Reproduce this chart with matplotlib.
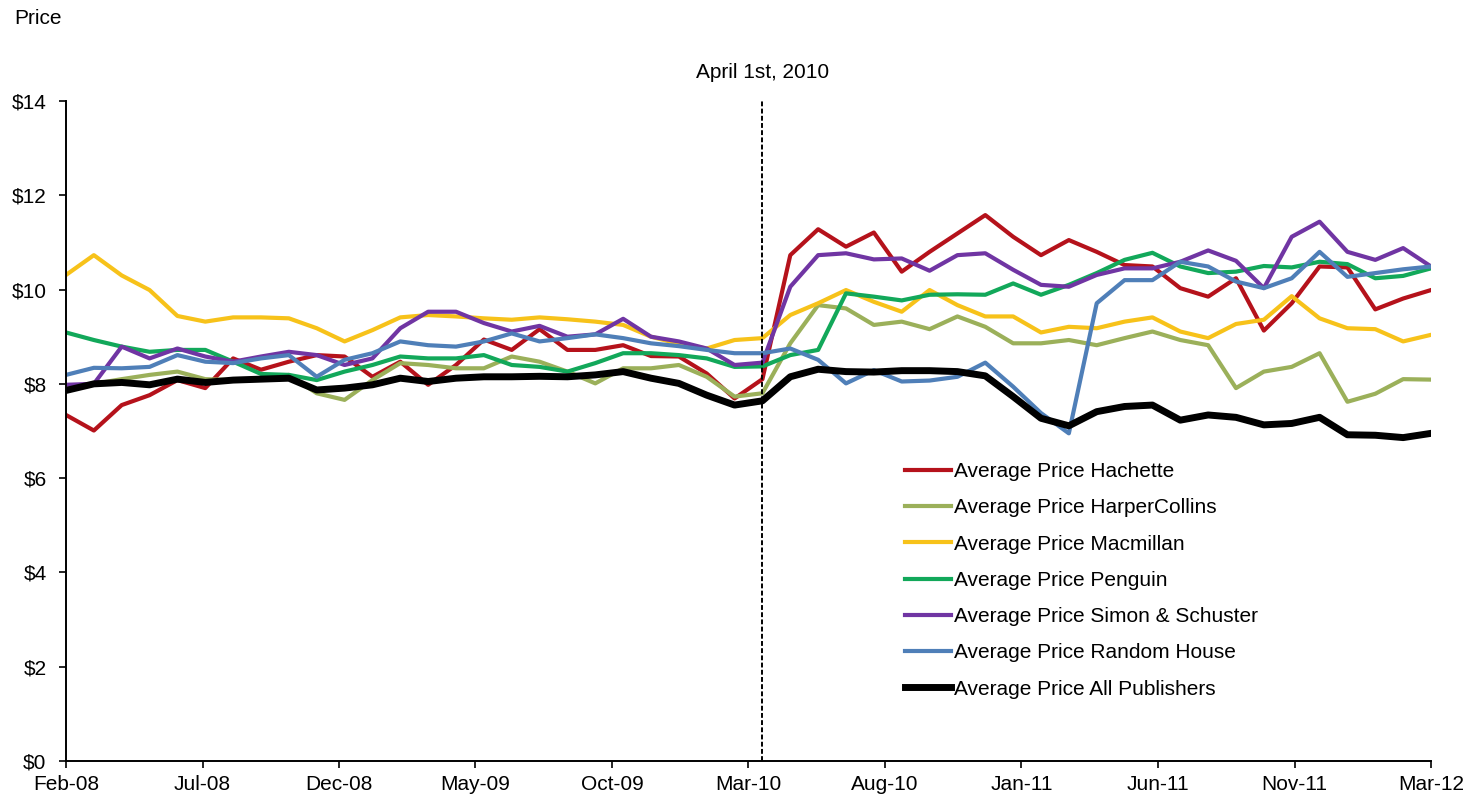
import matplotlib
matplotlib.use("Agg")
import matplotlib.pyplot as plt

plt.rcParams['font.family'] = ['Liberation Sans', 'DejaVu Sans']

months = ["Feb-08", "Mar-08", "Apr-08", "May-08", "Jun-08", "Jul-08", "Aug-08", "Sep-08", "Oct-08", "Nov-08",
          "Dec-08", "Jan-09", "Feb-09", "Mar-09", "Apr-09", "May-09", "Jun-09", "Jul-09", "Aug-09", "Sep-09",
          "Oct-09", "Nov-09", "Dec-09", "Jan-10", "Feb-10", "Mar-10", "Apr-10", "May-10", "Jun-10", "Jul-10",
          "Aug-10", "Sep-10", "Oct-10", "Nov-10", "Dec-10", "Jan-11", "Feb-11", "Mar-11", "Apr-11", "May-11",
          "Jun-11", "Jul-11", "Aug-11", "Sep-11", "Oct-11", "Nov-11", "Dec-11", "Jan-12", "Feb-12", "Mar-12"]

tick_labels = ["Feb-08", "Jul-08", "Dec-08", "May-09", "Oct-09", "Mar-10",
               "Aug-10", "Jan-11", "Jun-11", "Nov-11", "Mar-12"]

hachette = [7.34, 7.01, 7.55, 7.76, 8.08, 7.91, 8.54, 8.30, 8.47, 8.61,
            8.58, 8.15, 8.47, 7.98, 8.40, 8.94, 8.72, 9.16, 8.72, 8.72,
            8.82, 8.59, 8.58, 8.22, 7.69, 8.10, 10.73, 11.28, 10.91, 11.21,
            10.38, 10.80, 11.19, 11.58, 11.12, 10.73, 11.05, 10.80, 10.52, 10.49,
            10.03, 9.85, 10.24, 9.13, 9.71, 10.49, 10.47, 9.58, 9.81, 9.99]

harpercollins = [7.95, 8.00, 8.10, 8.19, 8.26, 8.10, 8.08, 8.10, 8.19, 7.80,
                 7.66, 8.08, 8.44, 8.40, 8.33, 8.33, 8.58, 8.47, 8.26, 8.01,
                 8.33, 8.33, 8.40, 8.15, 7.73, 7.80, 8.86, 9.67, 9.60, 9.25,
                 9.32, 9.16, 9.43, 9.21, 8.86, 8.86, 8.93, 8.82, 8.97, 9.11,
                 8.93, 8.82, 7.91, 8.26, 8.36, 8.65, 7.62, 7.79, 8.10, 8.09]

macmillan = [10.31, 10.73, 10.30, 9.99, 9.44, 9.32, 9.41, 9.41, 9.39, 9.18,
             8.90, 9.14, 9.41, 9.46, 9.43, 9.39, 9.36, 9.41, 9.37, 9.32,
             9.25, 9.00, 8.85, 8.75, 8.93, 8.97, 9.46, 9.71, 9.99, 9.74,
             9.53, 9.99, 9.67, 9.43, 9.43, 9.09, 9.21, 9.18, 9.32, 9.41,
             9.11, 8.97, 9.27, 9.36, 9.86, 9.39, 9.18, 9.16, 8.90, 9.04]

penguin = [9.09, 8.93, 8.79, 8.68, 8.72, 8.72, 8.47, 8.21, 8.19, 8.08,
           8.26, 8.40, 8.58, 8.54, 8.54, 8.61, 8.40, 8.36, 8.26, 8.44,
           8.65, 8.65, 8.61, 8.54, 8.36, 8.37, 8.61, 8.72, 9.92, 9.85,
           9.77, 9.89, 9.90, 9.89, 10.13, 9.89, 10.10, 10.35, 10.63, 10.78,
           10.49, 10.35, 10.38, 10.50, 10.47, 10.59, 10.54, 10.24, 10.29, 10.45]

simon_schuster = [7.98, 8.00, 8.79, 8.54, 8.75, 8.58, 8.47, 8.58, 8.68, 8.61,
                  8.40, 8.54, 9.18, 9.53, 9.53, 9.29, 9.11, 9.23, 9.00, 9.05,
                  9.38, 9.00, 8.90, 8.75, 8.40, 8.45, 10.06, 10.73, 10.77, 10.64,
                  10.66, 10.40, 10.73, 10.77, 10.42, 10.10, 10.06, 10.31, 10.45, 10.45,
                  10.59, 10.83, 10.61, 10.03, 11.12, 11.44, 10.80, 10.63, 10.88, 10.49]

random_house = [8.19, 8.34, 8.33, 8.36, 8.61, 8.47, 8.44, 8.54, 8.61, 8.15,
                8.51, 8.65, 8.90, 8.82, 8.79, 8.90, 9.07, 8.90, 8.97, 9.05,
                8.97, 8.86, 8.80, 8.72, 8.65, 8.65, 8.75, 8.51, 8.01, 8.29,
                8.05, 8.07, 8.15, 8.45, 7.94, 7.38, 6.95, 9.71, 10.20, 10.20,
                10.59, 10.49, 10.17, 10.03, 10.24, 10.80, 10.27, 10.35, 10.43, 10.49]

all_publishers = [7.86, 8.00, 8.03, 7.98, 8.10, 8.03, 8.08, 8.10, 8.12, 7.87,
                  7.91, 7.98, 8.12, 8.05, 8.12, 8.15, 8.15, 8.16, 8.15, 8.19,
                  8.26, 8.12, 8.01, 7.76, 7.55, 7.64, 8.15, 8.31, 8.26, 8.25,
                  8.28, 8.28, 8.26, 8.17, 7.73, 7.27, 7.11, 7.41, 7.52, 7.55,
                  7.23, 7.34, 7.29, 7.13, 7.16, 7.29, 6.92, 6.91, 6.86, 6.95]

series = [
    ("Average Price Hachette", hachette, "#B5121B", 3.0),
    ("Average Price HarperCollins", harpercollins, "#9BB05A", 3.0),
    ("Average Price Macmillan", macmillan, "#F7C21A", 3.0),
    ("Average Price Penguin", penguin, "#12A85A", 3.0),
    ("Average Price Simon & Schuster", simon_schuster, "#7035A3", 3.0),
    ("Average Price Random House", random_house, "#4F7FB8", 3.0),
    ("Average Price All Publishers", all_publishers, "#000000", 5.0),
]

y_ticks = [0, 2, 4, 6, 8, 10, 12, 14]
event_index = months.index("Mar-10")

fig = plt.figure(figsize=(14.76, 8.02), dpi=100)
ax = fig.add_axes([66 / 1476, 1 - 761 / 802, (1431 - 66) / 1476, (761 - 101) / 802])

x = list(range(len(months)))
for label, vals, color, lw in series:
    ax.plot(x, vals, color=color, lw=lw, label=label)

ax.axvline(event_index, ymin=0, ymax=1, color='black', lw=1.4, linestyle=(0, (2.5, 1.2)))

ax.set_xlim(0, len(months) - 1)
ax.set_ylim(0, 14)
n = len(tick_labels) - 1
ax.set_xticks([k * (len(months) - 1) / n for k in range(n + 1)])
ax.set_xticklabels(tick_labels, fontsize=15)
ax.set_yticks(y_ticks)
ax.set_yticklabels([f"${v}" for v in y_ticks], fontsize=15)
ax.tick_params(axis='y', direction='out', length=5, width=1.2, pad=9)
ax.tick_params(axis='x', direction='out', length=5, width=1.2, pad=5)

for s in ['top', 'right']:
    ax.spines[s].set_visible(False)
for s in ['left', 'bottom']:
    ax.spines[s].set_linewidth(1.4)
    ax.spines[s].set_color('black')

fig.text(14 / 1476, 1 - 18 / 802, "Price", fontsize=15, ha='left', va='center')
ax.text(event_index, 14.6, "April 1st, 2010", fontsize=15, ha='center', va='center',
        transform=ax.transData, clip_on=False)

leg = ax.legend(loc='upper left', bbox_to_anchor=((905 - 66) / 1365, (761 - 462) / 660),
                frameon=False, fontsize=15, handlelength=2.2, handletextpad=0.15,
                labelspacing=0.83, borderpad=0, borderaxespad=0)

fig.savefig("out.png", dpi=100)
